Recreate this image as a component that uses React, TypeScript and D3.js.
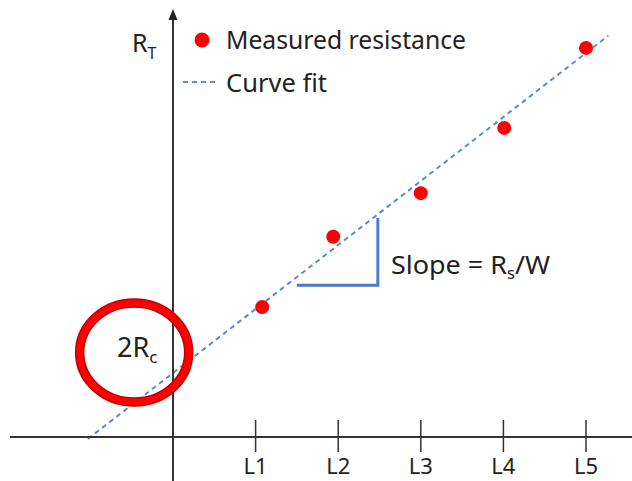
import * as d3 from "d3";
import React from "react";

// channel lengths (L1..L5) and measured total resistance, arbitrary units
const categories = ["L1", "L2", "L3", "L4", "L5"];
const tickPositions = [1, 2, 3, 4, 5];
const measuredLength = [1.08, 1.94, 3.0, 4.01, 5.0];
const measuredResistance = [2.03, 3.13, 3.81, 4.83, 6.08];

// linear fit: R_T = 2Rc + slope * L
const fitIntercept = 1.0;
const fitSlope = 1.0;
const fitExtent = [-1.03, 5.27];

// slope triangle corners, in data units
const triangleX = [1.5, 2.48];
const triangleY = [2.37, 3.42];

const W = 632;
const H = 481;
const FONT = "'Noto Sans', 'Open Sans', sans-serif";
const BLUE = "#5b8bd0";

export default function App() {
  const x = d3.scaleLinear().domain([0, 5]).range([173, 586]);
  const y = d3.scaleLinear().domain([0, 1]).range([437, 373]);

  const fitLine = d3
    .line<number>()
    .x((d) => x(d))
    .y((d) => y(fitIntercept + fitSlope * d));

  const tri = d3
    .line<[number, number]>()
    .x((d) => x(d[0]))
    .y((d) => y(d[1]));

  const x0 = x(0);
  const y0 = y(0);

  return (
    <svg
      width={W}
      height={H}
      viewBox={`0 0 ${W} ${H}`}
      style={{ position: "absolute", left: 0, top: 0, background: "#fff" }}
      fontFamily={FONT}
    >
      {/* fit line, under everything */}
      <path
        d={fitLine(fitExtent) ?? ""}
        fill="none"
        stroke={BLUE}
        strokeWidth={2}
        strokeDasharray="5,4"
      />

      {/* axes */}
      <line x1={10} x2={W} y1={y0} y2={y0} stroke="#333" strokeWidth={2} />
      <line x1={x0} x2={x0} y1={H} y2={18} stroke="#333" strokeWidth={2} />
      <path d={`M${x0},9 L${x0 - 4.5},20 L${x0 + 4.5},20 Z`} fill="#222" />

      {tickPositions.map((t, i) => (
        <g key={categories[i]}>
          <line x1={x(t)} x2={x(t)} y1={y0 - 17} y2={y0 + 15} stroke="#333" strokeWidth={1.5} />
          <text x={x(t)} y={474} textAnchor="middle" fontSize={22} fill="#222">
            {categories[i]}
          </text>
        </g>
      ))}

      {/* measured points */}
      {measuredLength.map((l, i) => (
        <circle key={i} cx={x(l)} cy={y(measuredResistance[i])} r={7} fill="#ff0000" />
      ))}

      {/* slope triangle */}
      <path
        d={
          tri([
            [triangleX[0], triangleY[0]],
            [triangleX[1], triangleY[0]],
            [triangleX[1], triangleY[1]],
          ]) ?? ""
        }
        fill="none"
        stroke="#4a7cc8"
        strokeWidth={3}
      />
      <text x={391} y={274} fontSize={26} fill="#222" textLength={159} lengthAdjust="spacingAndGlyphs">
        Slope = R
        <tspan fontSize={16} dy={5}>s</tspan>
        <tspan dy={-5}>/W</tspan>
      </text>

      {/* 2Rc intercept marker */}
      <ellipse
        cx={x(-0.47)}
        cy={y(1.32)}
        rx={54.5}
        ry={49.5}
        fill="none"
        stroke="#c00000"
        strokeWidth={9.5}
      />
      <ellipse
        cx={x(-0.47)}
        cy={y(1.32)}
        rx={54.5}
        ry={49.5}
        fill="none"
        stroke="#ff0000"
        strokeWidth={6.5}
      />
      <text x={117} y={357} fontSize={27} fill="#222">
        2R
        <tspan fontSize={17} dy={6}>c</tspan>
      </text>

      {/* y label */}
      <text x={132} y={52} fontSize={25} fill="#222">
        R
        <tspan fontSize={16} dy={7}>T</tspan>
      </text>

      {/* legend */}
      <circle cx={202} cy={40} r={7.5} fill="#ff0000" />
      <text x={226} y={49} fontSize={26} fill="#222" textLength={240} lengthAdjust="spacingAndGlyphs">
        Measured resistance
      </text>
      <line x1={183} x2={218} y1={82} y2={82} stroke={BLUE} strokeWidth={2} strokeDasharray="5,4" />
      <text x={226} y={92} fontSize={26} fill="#222" textLength={101} lengthAdjust="spacingAndGlyphs">
        Curve fit
      </text>
    </svg>
  );
}
